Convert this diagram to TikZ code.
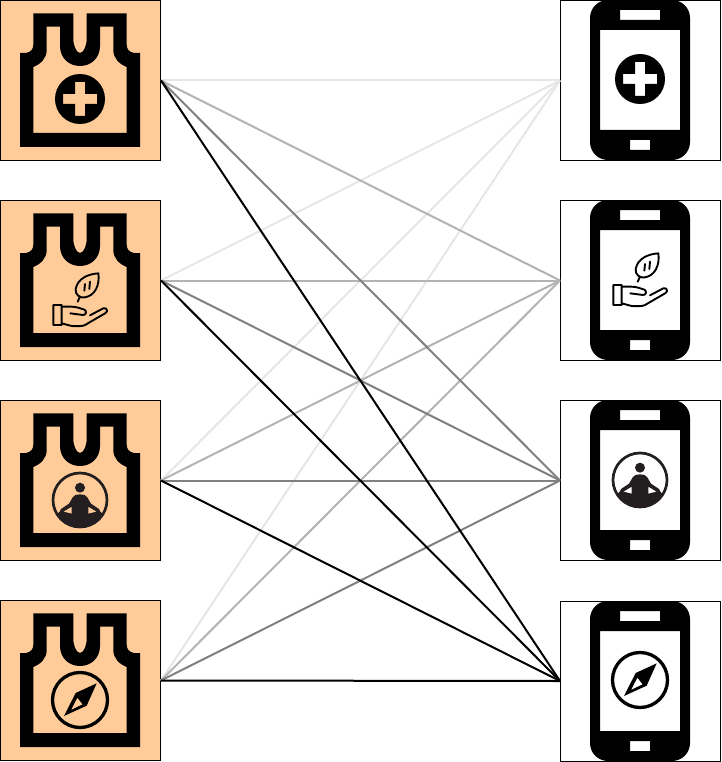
\documentclass[tikz,border=0pt]{standalone}
\definecolor{peach}{HTML}{FFCC99}
\definecolor{inkdark}{HTML}{231F20}
\definecolor{wireA}{HTML}{E6E6E6}
\definecolor{wireB}{HTML}{B3B3B3}
\definecolor{wireC}{HTML}{808080}
\tikzset{
  x=1pt,y=-1pt,
  tankbox/.style={draw=black,line width=1pt,fill=peach,minimum size=160pt,inner sep=0pt},
  phonebox/.style={draw=black,line width=1pt,fill=white,minimum size=160pt,inner sep=0pt},
  wire/.style={line width=2pt,yshift=-0.5pt},
  zoomed/.style={scale=1/3,shift={(-105,-105)}},
  tank/.pic={
    \fill[black,even odd rule]
      (20,53) -- (26,53) .. controls (31,52) and (33.3,49) .. (33.3,45) -- (33.3,13.3) -- (73.3,13.3) -- (73.3,40)
      .. controls (73.3,44) and (76,53) .. (80,53) .. controls (84,53) and (86.7,44) .. (86.7,40)
      -- (86.7,13.3) -- (126.7,13.3) -- (126.7,45) .. controls (126.7,49) and (129,52) .. (134,53) -- (140,53)
      -- (140,147) -- (20,147) -- cycle
      (33.3,67) -- (33.3,133) -- (126.7,133) -- (126.7,67) .. controls (119,64) and (113.3,58) .. (113.3,50)
      -- (113.3,26.7) -- (100,26.7) -- (100,46) .. controls (100,58) and (91,66) .. (80,66)
      .. controls (69,66) and (60,58) .. (60,46) -- (60,26.7) -- (46.7,26.7) -- (46.7,50)
      .. controls (46.7,58) and (41,64) .. (33.3,67) -- cycle;
  },
  phone/.pic={
    \fill[black,even odd rule]
      (590,18) .. controls (590,8) and (598,0) .. (608,0) -- (672,0) .. controls (682,0) and (690,8) .. (690,18)
      -- (690,142) .. controls (690,152) and (682,160) .. (672,160) -- (608,160) .. controls (598,160) and (590,152) .. (590,142) -- cycle
      (600,30) rectangle (680,130)
      (620,10) rectangle (660,20)
      (630,140) rectangle (650,150);
  },
  plusicon/.pic={
    \fill[black,even odd rule] (0,0) circle[radius=25pt]
      (-5,-17) -- (5,-17) -- (5,-5) -- (17,-5) -- (17,5) -- (5,5) -- (5,17) -- (-5,17) -- (-5,5) -- (-17,5) -- (-17,-5) -- (-5,-5) -- cycle;
  },
  leaficon/.pic={
    \begin{scope}[zoomed]
      \draw[black,line width=1.9pt,line join=round,line cap=round]
        (25,120) rectangle (50,180)
        (50,125) -- (78,125) .. controls (95,125) and (105,130) .. (118,134) .. controls (126,138) and (124,150) .. (114,150) -- (76,145)
        (135,151) -- (175,130) .. controls (185,127) and (190,138) .. (182,144) -- (120,180) .. controls (112,184) and (100,184) .. (80,183) -- (50,175)
        (160,25) .. controls (130,27) and (98,40) .. (92,72) .. controls (90,90) and (105,100) .. (120,97) .. controls (150,92) and (165,60) .. (160,25) -- cycle
        (105,95) -- (98,110)
        (120,57) -- (118,77)
        (135,50) -- (133,72);
    \end{scope}
  },
  yogaicon/.pic={
    \draw[inkdark,line width=2.7pt] (0,0) circle[radius=27pt];
    \begin{scope}[zoomed]
      \fill[inkdark] (105,68) circle[radius=15pt];
      \fill[inkdark,even odd rule]
        (36,148) -- (44,140) -- (48,132) -- (72,116) -- (83,97) .. controls (86,90) and (95,88) .. (105,88)
        .. controls (115,88) and (124,90) .. (127,97) -- (138,116) -- (162,132) -- (166,140) -- (174,148)
        .. controls (141.5,200) and (68.5,200) .. (36,148) -- cycle
        (55,140) -- (80,125) -- (80,146) -- cycle
        (155,140) -- (130,125) -- (130,146) -- cycle;
    \end{scope}
  },
  compassicon/.pic={
    \draw[black,line width=3.3pt] (0,0) circle[radius=27.5pt];
    \begin{scope}[zoomed]
      \fill[black,even odd rule]
        (155,55) -- (92,84) -- (57,153) -- (125,122) -- cycle
        (97,98) -- (113,118) -- (78,135) -- cycle;
    \end{scope}
  }
}
\begin{document}
\begin{tikzpicture}
\useasboundingbox (0,0) rectangle (721,762);
% boxes
\node[tankbox] (t1) at (80.5,80.5) {};
\node[tankbox] (t2) at (80.5,280.5) {};
\node[tankbox] (t3) at (80.5,480.5) {};
\node[tankbox] (t4) at (80.5,680.5) {};
\node[phonebox] (p1) at (640.5,80.5) {};
\node[phonebox] (p2) at (640.5,280.5) {};
\node[phonebox] (p3) at (640.5,480.5) {};
\node[phonebox] (p4) at (640.5,681) {};
% tank and phone outlines
\pic at (0,0) {tank};
\pic at (0,200) {tank};
\pic at (0,400) {tank};
\pic at (0,600) {tank};
\pic at (0,0) {phone};
\pic at (0,200) {phone};
\pic at (0,400) {phone};
\pic at (0,601) {phone};
% service icons
\pic at (80,99) {plusicon};
\pic at (80,300) {leaficon};
\pic at (80,500) {yogaicon};
\pic at (80,700) {compassicon};
\pic at (640,79) {plusicon};
\pic at (640,280) {leaficon};
\pic at (640,480) {yogaicon};
\pic at (640,680) {compassicon};
% connectors
\foreach \s in {1,2,3,4} \draw[wire,wireA] (t\s.east) -- (p1.west);
\foreach \s in {1,2,3,4} \draw[wire,wireB] (t\s.east) -- (p2.west);
\foreach \s in {1,2,3,4} \draw[wire,wireC] (t\s.east) -- (p3.west);
\foreach \s in {1,2,3,4} \draw[wire,black] (t\s.east) -- (p4.west);
\end{tikzpicture}
\end{document}
